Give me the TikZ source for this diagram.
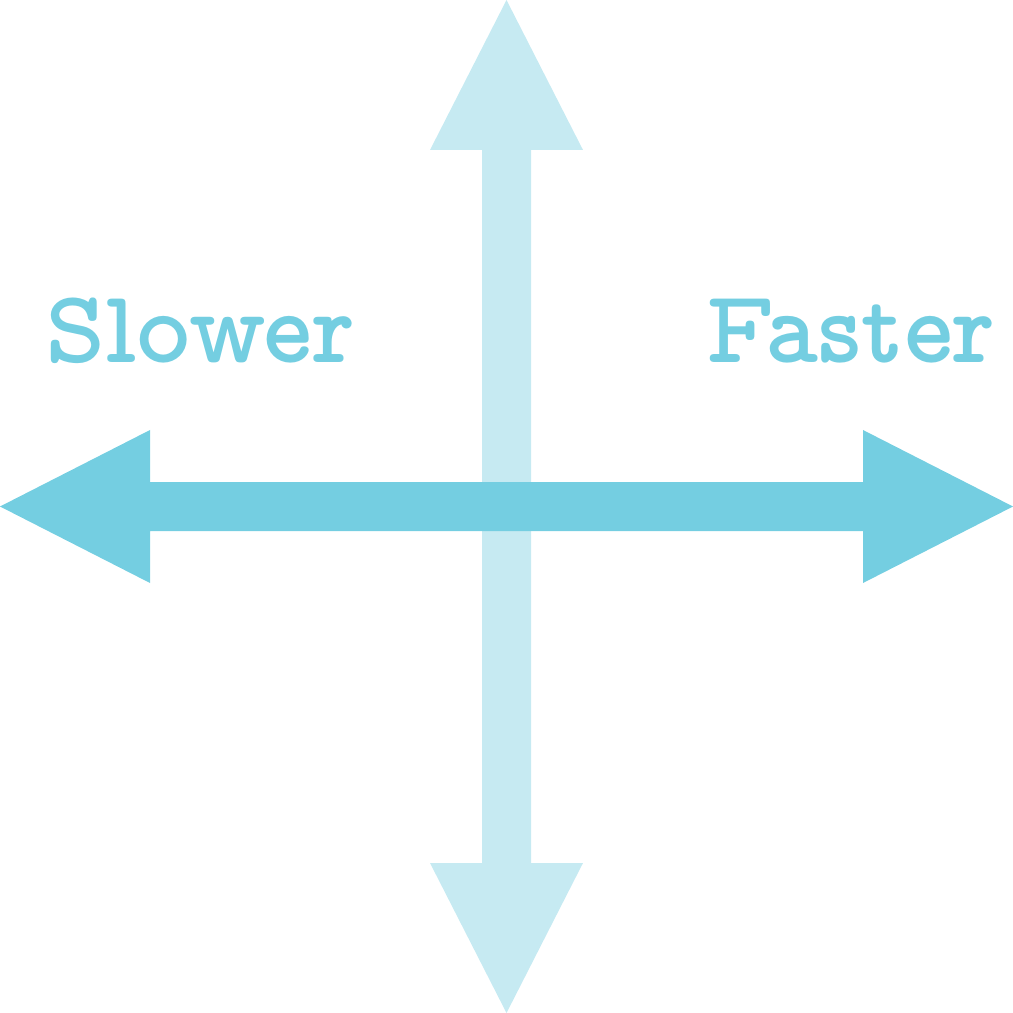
\documentclass[tikz,border=0pt]{standalone}
\usepackage{fontspec}
\usepackage{tikz}
\usetikzlibrary{positioning}

\newfontfamily\slabfont{lmmonoproplt10-bold.otf}
\definecolor{slowfast}{HTML}{74CEE1}
\definecolor{updown}{HTML}{C6EAF2}

\begin{document}
\begin{tikzpicture}[x=0.01cm, y=-0.01cm,
    label text/.style={text=slowfast, font=\slabfont\fontsize{29.5}{30}\selectfont, inner sep=0pt, anchor=base}]
  \useasboundingbox (0,0) rectangle (1013,1013);
  \coordinate (o) at (506.5,506.5);

  % vertical arrow (behind)
  \fill[updown] (506.5,0) -- (583,150) -- (531,150) -- (531,863) -- (583,863)
    -- (506.5,1013) -- (430,863) -- (482,863) -- (482,150) -- (430,150) -- cycle;

  % horizontal arrow
  \fill[slowfast] (0,506.5) -- (150,430) -- (150,482) -- (863,482) -- (863,430)
    -- (1013,506.5) -- (863,583) -- (863,531) -- (150,531) -- (150,583) -- cycle;

  \node[label text] (slower) at (200,363) {Slower};
  \node[label text] (faster) at (850,363) {Faster};
\end{tikzpicture}
\end{document}
